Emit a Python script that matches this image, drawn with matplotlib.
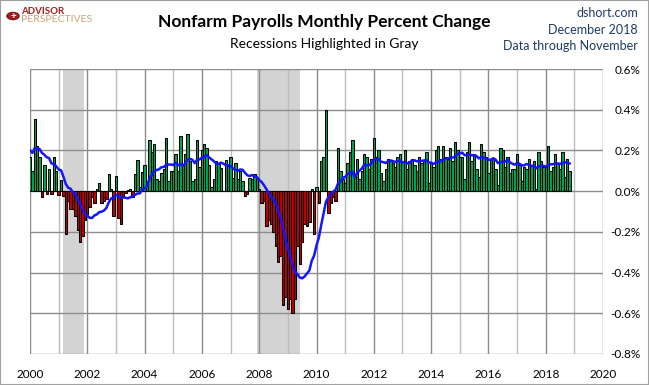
import numpy as np
import matplotlib.pyplot as plt
from matplotlib.patches import Rectangle, Circle

plt.rcParams['font.family'] = ['Lato', 'DejaVu Sans']

# Monthly percent change in nonfarm payrolls (%), Jan 2000 - Nov 2018
pct_1999 = [0.27, 0.06, 0.28, 0.17, 0.20, 0.24, 0.13, 0.16, 0.30, 0.21, 0.23]  # Feb-Dec 1999, for the moving average
pct_2000 = [0.17, 0.10, 0.355, 0.22, 0.17, -0.03, 0.13, -0.015, 0.11, -0.015, 0.17, 0.10]
pct_2001 = [-0.02, 0.055, -0.025, -0.21, -0.05, -0.09, -0.09, -0.12, -0.19, -0.25, -0.22, -0.14]
pct_2002 = [-0.11, -0.08, -0.03, -0.06, 0.01, 0.04, -0.06, -0.05, -0.04, 0.085, 0.01, -0.12]
pct_2003 = [0.075, -0.13, -0.16, -0.03, -0.01, 0.005, 0.01, -0.03, 0.085, 0.155, 0.02, 0.095]
pct_2004 = [0.13, 0.05, 0.25, 0.19, 0.23, 0.06, 0.05, 0.09, 0.11, 0.26, 0.05, 0.10]
pct_2005 = [0.10, 0.18, 0.10, 0.27, 0.13, 0.18, 0.28, 0.15, 0.05, 0.06, 0.25, 0.12]
pct_2006 = [0.20, 0.23, 0.21, 0.13, 0.02, 0.06, 0.15, 0.135, 0.115, 0.0, 0.155, 0.125]
pct_2007 = [0.17, 0.065, 0.14, 0.06, 0.10, 0.05, -0.025, -0.015, 0.065, 0.06, 0.085, 0.07]
pct_2008 = [0.01, -0.06, -0.05, -0.17, -0.14, -0.16, -0.20, -0.27, -0.35, -0.32, -0.56, -0.52]
pct_2009 = [-0.58, -0.53, -0.60, -0.53, -0.27, -0.36, -0.25, -0.16, -0.17, -0.15, 0.01, -0.21]
pct_2010 = [0.02, -0.06, 0.15, 0.17, 0.40, -0.105, -0.06, -0.03, -0.05, 0.21, 0.10, 0.06]
pct_2011 = [0.04, 0.14, 0.19, 0.25, 0.075, 0.16, 0.06, 0.10, 0.18, 0.17, 0.11, 0.16]
pct_2012 = [0.26, 0.17, 0.20, 0.09, 0.05, 0.11, 0.16, 0.15, 0.14, 0.12, 0.17, 0.18]
pct_2013 = [0.15, 0.20, 0.11, 0.15, 0.16, 0.13, 0.10, 0.17, 0.14, 0.15, 0.19, 0.04]
pct_2014 = [0.14, 0.12, 0.20, 0.22, 0.16, 0.22, 0.17, 0.16, 0.21, 0.15, 0.24, 0.20]
pct_2015 = [0.17, 0.17, 0.06, 0.19, 0.24, 0.15, 0.18, 0.11, 0.07, 0.23, 0.19, 0.17]
pct_2016 = [0.09, 0.16, 0.16, 0.11, 0.03, 0.21, 0.20, 0.12, 0.17, 0.09, 0.11, 0.11]
pct_2017 = [0.18, 0.13, 0.05, 0.12, 0.11, 0.16, 0.13, 0.15, 0.01, 0.19, 0.15, 0.12]
pct_2018 = [0.12, 0.22, 0.10, 0.12, 0.18, 0.14, 0.11, 0.19, 0.07, 0.16, 0.10]

# Recessions (fractional years)
recessions = [(2001.167, 2001.875), (2007.917, 2009.42)]

year_labels = list(range(2000, 2021, 2))
y_ticks = [0.6, 0.4, 0.2, 0.0, -0.2, -0.4, -0.6, -0.8]

pct = np.array(pct_2000 + pct_2001 + pct_2002 + pct_2003 + pct_2004 + pct_2005
               + pct_2006 + pct_2007 + pct_2008 + pct_2009 + pct_2010 + pct_2011
               + pct_2012 + pct_2013 + pct_2014 + pct_2015 + pct_2016 + pct_2017
               + pct_2018)
x = 2000 + np.arange(len(pct)) / 12.0

# 12-month trailing average
full = np.array(pct_1999 + list(pct))
ma12 = np.convolve(full, np.ones(12) / 12, mode='valid')

fig = plt.figure(figsize=(6.49, 3.85), dpi=100)
ax = fig.add_axes([30 / 649, 31 / 385, 573 / 649, 285 / 385])

for start, end in recessions:
    ax.axvspan(start, end, color='#d3d3d3', lw=0, zorder=0)

for yr in range(2000, 2021):
    col = '#8c8c8c' if yr % 2 == 0 else '#bdbdbd'
    ax.axvline(yr, color=col, lw=1.0, zorder=1)
for v in y_ticks:
    ax.axhline(v, color='#8c8c8c', lw=1.0, zorder=1)

colors = np.where(pct >= 0, '#00a651', '#c00000')
ax.bar(x, pct, width=1 / 12, color=colors, edgecolor='black', linewidth=0.75, zorder=2)
ax.plot(x, ma12, color='#1414ff', lw=1.8, zorder=3)

ax.set_xlim(2000, 2020)
ax.set_ylim(-0.8, 0.6)
for s in ax.spines.values():
    s.set_visible(False)

ax.set_xticks(year_labels)
ax.set_xticklabels([str(y) for y in year_labels], fontsize=8.5)
ax.tick_params(axis='x', length=0, pad=11)
ax.yaxis.tick_right()
ax.set_yticks(y_ticks)
ax.set_yticklabels([f"{v:.1f}%" for v in y_ticks], fontsize=8.5, ha='right')
ax.tick_params(axis='y', length=0, pad=27)

fig.text(0.5, 0.943, 'Nonfarm Payrolls Monthly Percent Change', ha='center', va='center',
         fontsize=12.5, fontweight='bold')
fig.text(0.5, 0.886, 'Recessions Highlighted in Gray', ha='center', va='center', fontsize=10)

navy = '#1f3a68'
fig.text(638 / 649, 1 - 13 / 385, 'dshort.com', ha='right', va='center', fontsize=9, color=navy)
fig.text(638 / 649, 1 - 30 / 385, 'December 2018', ha='right', va='center', fontsize=9, color=navy)
fig.text(638 / 649, 1 - 46 / 385, 'Data through November', ha='right', va='center', fontsize=9, color=navy)

# logo
fig.patches.append(Circle((13 / 649, 1 - 16 / 385), 0.0095, transform=fig.transFigure,
                          fc='#a02020', ec='#7a1010', lw=0.8))
fig.text(13 / 649, 1 - 16 / 385, '+', ha='center', va='center', fontsize=7, color='white',
         fontweight='bold')
fig.text(21 / 649, 1 - 12 / 385, 'ADVISOR', ha='left', va='center', fontsize=7,
         fontweight='bold', color='#a02020')
fig.text(21 / 649, 1 - 20 / 385, 'PERSPECTIVES', ha='left', va='center', fontsize=7.5,
         color='#c8a27a')

fig.patches.append(Rectangle((0, 0), 1, 1, transform=fig.transFigure, fill=False,
                             ec='#a0a0a0', lw=1.5))

fig.savefig('out.png', dpi=100)
